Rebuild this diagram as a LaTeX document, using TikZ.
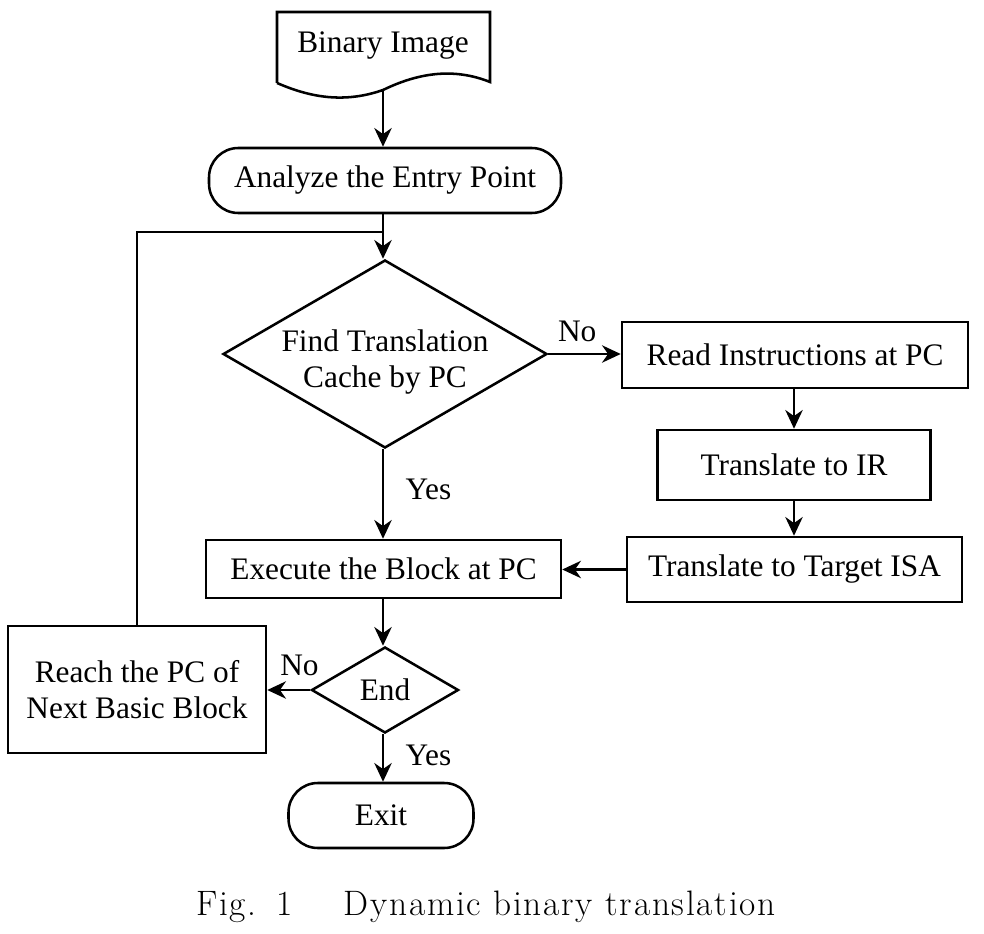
\documentclass[tikz,border=0pt]{standalone}
\usepackage{fontspec}
\newfontfamily\tnr{Liberation Serif}
\newfontfamily\capfont[LetterSpace=5]{Latin Modern Roman}
\usetikzlibrary{shapes.geometric,arrows.meta}
\begin{document}
\begin{tikzpicture}[x=0.75pt,y=-0.75pt,
  every node/.style={font=\tnr\fontsize{23.5pt}{27.5pt}\selectfont},
  ln/.style={line width=1.9pt},
  arr/.style={ln,-{Stealth[length=14pt,width=13pt,inset=4.5pt]}},
  boxn/.style={draw,ln,rectangle,inner sep=0pt,align=center},
  term/.style={draw,ln,rectangle,rounded corners=22pt,inner sep=0pt,align=center},
  dec/.style={draw,ln,diamond,inner sep=0pt},
  lbl/.style={inner sep=0pt}
]
\useasboundingbox (0,0) rectangle (984,934);
% document shape
\draw[ln] (277,83) -- (277,12) -- (490,12) -- (490,82)
  .. controls (455,68) and (420,72) .. (383,90)
  .. controls (340,105) and (305,95) .. (277,83);
\node[lbl] (doc) at (383,46) {Binary Image};
\coordinate (docb) at (383,91);
% nodes
\node[term,minimum width=264pt,minimum height=48.75pt] (ana) at (385,180.5) {Analyze the Entry Point};
\node[dec,minimum width=243pt,minimum height=141pt] (find) at (385,354) {};
\node[lbl,align=center] (findt) at (385,362) {Find Translation\\Cache by PC};
\node[boxn,minimum width=259.5pt,minimum height=49.5pt] (read) at (795,355) {Read Instructions at PC};
\node[boxn,minimum width=204.75pt,minimum height=52.5pt] (ir) at (794,465) {Translate to IR};
\node[boxn,minimum width=251.25pt,minimum height=48.75pt] (isa) at (794.5,569.5) {Translate to Target ISA};
\node[boxn,minimum width=266.25pt,minimum height=43.5pt] (exe) at (383.5,569) {Execute the Block at PC};
\node[dec,minimum width=110.25pt,minimum height=64.5pt] (end) at (385,690) {};
\node[lbl] (endt) at (end) {End};
\node[boxn,minimum width=193.5pt,minimum height=95.25pt] (reach) at (137,689.5) {Reach the PC of\\Next Basic Block};
\node[term,minimum width=138.75pt,minimum height=48.75pt] (exit) at (381,815.5) {Exit};
\coordinate (j) at (383,232);
% connectors
\draw[arr] (docb) -- (docb |- ana.north);
\draw[arr] (ana.south -| j) -- (j |- find.north);
\draw[ln] (reach.north) |- (j);
\draw[arr] (find.east) -- (find.east -| read.west) node[lbl,pos=0.4,above=8pt] (no1) {No};
\draw[arr] (read.south -| ir.north) -- (ir.north);
\draw[arr] (ir.south) -- (ir.south |- isa.north);
\draw[arr] (isa.west) -- (isa.west -| exe.east);
\draw[arr] (j |- find.south) -- (j |- exe.north) node[lbl,pos=0.45,right=16pt] (yes1) {Yes};
\draw[arr] (j |- exe.south) -- (j |- end.north);
\draw[arr] (end.west) -- (end.west -| reach.east) node[lbl,pos=0.25,above=10pt] (no2) {No};
\draw[arr] (j |- end.south) -- (j |- exit.north) node[lbl,pos=0.45,right=16pt] (yes2) {Yes};
% caption
\node[font=\capfont\fontsize{26.5pt}{30pt}\selectfont,anchor=base west,inner sep=0pt] (cap) at (196,915) {Fig.\hspace{0.55em}1\hspace{1.45em}Dynamic binary translation};
\end{tikzpicture}
\end{document}
